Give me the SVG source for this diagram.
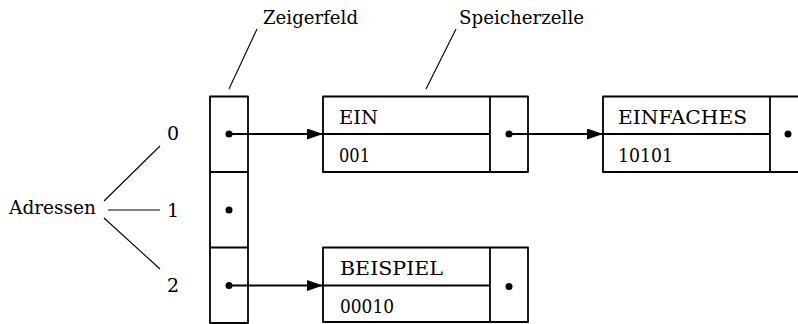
<svg xmlns="http://www.w3.org/2000/svg" width="798" height="324" viewBox="0 0 798 324">
<defs>
<style>
text{font-family:'DejaVu Serif','Liberation Serif',serif;font-size:19px;fill:#000}
.box{fill:none;stroke:#000;stroke-width:1.8;stroke-linejoin:round}
.thin{stroke:#000;stroke-width:1.1;fill:none}
.conn{stroke:#000;stroke-width:1.8;fill:none}
.dot{fill:#000}
</style>
<marker id="arr" viewBox="0 0 16 11" refX="16" refY="5.5" markerWidth="16" markerHeight="11" markerUnits="userSpaceOnUse" orient="auto">
<path d="M0,0 L16,5.5 L0,11 Z" fill="#000"/>
</marker>
</defs>
<rect width="798" height="324" fill="#fff"/>

<g id="labels">
<text x="263" y="24" textLength="95" lengthAdjust="spacingAndGlyphs">Zeigerfeld</text>
<line class="thin" x1="257" y1="29" x2="229" y2="89"/>
<text x="459" y="24" textLength="125" lengthAdjust="spacingAndGlyphs">Speicherzelle</text>
<line class="thin" x1="456" y1="29" x2="426" y2="89"/>
</g>

<g id="adressen">
<text x="9" y="214" textLength="87" lengthAdjust="spacingAndGlyphs">Adressen</text>
<text x="167" y="140">0</text>
<text x="167" y="217">1</text>
<text x="167" y="292">2</text>
<line class="thin" x1="104" y1="201" x2="160" y2="146"/>
<line class="thin" x1="108" y1="210" x2="160" y2="210"/>
<line class="thin" x1="104" y1="218" x2="160" y2="269"/>
</g>

<g id="zeigerfeld">
<rect class="box" x="210" y="96.5" width="38" height="226.5"/>
<line class="box" x1="210" y1="172" x2="248" y2="172"/>
<line class="box" x1="210" y1="247.5" x2="248" y2="247.5"/>
<circle class="dot" cx="229" cy="134" r="3.5"/>
<circle class="dot" cx="229" cy="210" r="3.5"/>
<circle class="dot" cx="229" cy="285.5" r="3.5"/>
</g>

<g id="ein">
<rect class="box" x="323" y="96.5" width="205" height="75.5"/>
<line class="box" x1="323" y1="134" x2="490" y2="134"/>
<line class="box" x1="490" y1="96.5" x2="490" y2="172"/>
<text x="339" y="124" textLength="39" lengthAdjust="spacingAndGlyphs">EIN</text>
<text x="339" y="162" textLength="31" lengthAdjust="spacingAndGlyphs">001</text>
<circle class="dot" cx="509" cy="134" r="3.5"/>
</g>

<g id="einfaches">
<rect class="box" x="603" y="96.5" width="205" height="75.5"/>
<line class="box" x1="603" y1="134" x2="770" y2="134"/>
<line class="box" x1="770" y1="96.5" x2="770" y2="172"/>
<text x="618" y="124" textLength="129" lengthAdjust="spacingAndGlyphs">EINFACHES</text>
<text x="618" y="162" textLength="55" lengthAdjust="spacingAndGlyphs">10101</text>
<circle class="dot" cx="788" cy="134" r="3.5"/>
</g>

<g id="beispiel">
<rect class="box" x="323" y="247.5" width="205" height="74.5"/>
<line class="box" x1="323" y1="285.5" x2="490" y2="285.5"/>
<line class="box" x1="490" y1="247.5" x2="490" y2="322"/>
<text x="340" y="275" textLength="103" lengthAdjust="spacingAndGlyphs">BEISPIEL</text>
<text x="340" y="313" textLength="54" lengthAdjust="spacingAndGlyphs">00010</text>
<circle class="dot" cx="509" cy="286.5" r="3.5"/>
</g>

<g id="connectors">
<line class="conn" x1="229" y1="134" x2="323" y2="134" marker-end="url(#arr)"/>
<line class="conn" x1="509" y1="134" x2="603" y2="134" marker-end="url(#arr)"/>
<line class="conn" x1="229" y1="285.5" x2="323" y2="285.5" marker-end="url(#arr)"/>
</g>
</svg>
